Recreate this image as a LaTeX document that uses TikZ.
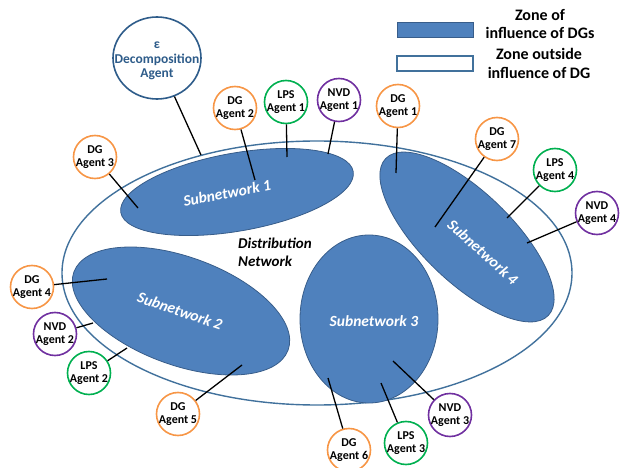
\documentclass[tikz,border=0pt]{standalone}
\usepackage{fontspec}
\setmainfont{Carlito}
\usetikzlibrary{shapes.geometric}

\definecolor{dgorange}{HTML}{F79646}
\definecolor{lpsgreen}{HTML}{00B050}
\definecolor{nvdpurple}{HTML}{7030A0}
\definecolor{subblue}{HTML}{4F81BD}
\definecolor{subborder}{HTML}{385D8A}
\definecolor{netborder}{HTML}{41719C}
\definecolor{decblue}{HTML}{2E5C8A}

\begin{document}
\begin{tikzpicture}[x = 1pt, y = -1pt,
                   every node/.style = {align          = center,
                                        inner sep      = 0pt},
                   agent/.style      = {shape          = circle,
                                        draw,
                                        line width     = 1.6pt,
                                        fill           = white,
                                        minimum size   = 43pt,
                                        inner sep      = -4pt,
                                        font           = \fontsize{12}{13.3}\selectfont\bfseries},
                   dg agent/.style   = {agent, draw = dgorange},
                   lps agent/.style  = {agent, draw = lpsgreen},
                   nvd agent/.style  = {agent, draw = nvdpurple},
                   subnet/.style     = {shape          = ellipse,
                                        fill           = subblue,
                                        draw           = subborder,
                                        line width     = 0.8pt},
                   sub label/.style  = {text           = white,
                                        font           = \fontsize{15.5}{18}\selectfont\bfseries\itshape},
                   key text/.style   = {font           = \fontsize{16}{18.5}\selectfont\bfseries},
                   black edge/.style = { -,
                                        line width     = 1.3pt,
                                        black}]
\useasboundingbox (0,0) rectangle (622,468);

% the network and its subnetworks
\node[ellipse, draw = netborder, line width = 1.4pt,
      minimum width = 510pt, minimum height = 264pt] (net) at (317,273) {};
\node[subnet, minimum width = 236pt, minimum height = 78pt,  rotate = 10]  (sub;1) at (237,192) {};
\node[subnet, minimum width = 228pt, minimum height = 108pt, rotate = -20] (sub;2) at (181,311) {};
\node[subnet, minimum width = 138pt, minimum height = 168pt]               (sub;3) at (369,319) {};
\node[subnet, minimum width = 226pt, minimum height = 90pt,  rotate = -44] (sub;4) at (467,237) {};

\node[sub label, rotate = 11]  (lbl;1) at (227,193) {Subnetwork 1};
\node[sub label, rotate = -19] (lbl;2) at (180,311) {Subnetwork 2};
\node[sub label]               (lbl;3) at (374,321) {Subnetwork 3};
\node[sub label, rotate = -42] (lbl;4) at (483,252) {Subnetwork 4};
\node[anchor = west, align = left, font = \fontsize{15}{18}\selectfont\bfseries\itshape]
     (net label) at (238,252) {Distribution\\Network};

% legend
\node[fill = subblue, draw = subborder, line width = 0.8pt,
      minimum width = 76pt, minimum height = 15pt] (key;1) at (435,29.5) {};
\node[fill = white, draw = netborder, line width = 1.6pt,
      minimum width = 76pt, minimum height = 15pt] (key;2) at (435,63.5) {};
\node[key text] (key;1-text) at (540,24)   {Zone of\\influence of DGs};
\node[key text] (key;2-text) at (539,63.5) {Zone outside\\influence of DG};

% ends of the connectors
\coordinate (dec-end)   at (201,155);
\coordinate (dg;1-end)  at (396,173);
\coordinate (dg;2-end)  at (255,180);
\coordinate (dg;3-end)  at (138,208);
\coordinate (dg;4-end)  at (107,279);
\coordinate (dg;5-end)  at (242,365);
\coordinate (dg;6-end)  at (328,378);
\coordinate (dg;7-end)  at (435,227);
\coordinate (lps;1-end) at (287,157);
\coordinate (lps;2-end) at (127,348);
\coordinate (lps;3-end) at (381,383);
\coordinate (lps;4-end) at (507,218);
\coordinate (nvd;1-end) at (328,154);
\coordinate (nvd;2-end) at (93,323);
\coordinate (nvd;3-end) at (393,361);
\coordinate (nvd;4-end) at (527,243);

% the agents
\node[ellipse, draw = decblue, line width = 1.6pt, fill = white,
      minimum width = 88pt, minimum height = 82pt,
      label = {[text = decblue, align = center, yshift = -3pt,
                font = \fontsize{13.5}{14.3}\selectfont\bfseries]center:ε\\Decomposition\\Agent}]
     (dec) at (157,58) {};
\node[dg agent] (dg;1) at (398,106) {DG\\Agent 1};
\node[dg agent] (dg;2) at (235,108) {DG\\Agent 2};
\node[dg agent] (dg;3) at (95,157)  {DG\\Agent 3};
\node[dg agent] (dg;4) at (32,287)  {DG\\Agent 4};
\node[dg agent] (dg;5) at (178,414) {DG\\Agent 5};
\node[dg agent] (dg;6) at (349,450) {DG\\Agent 6};
\node[dg agent] (dg;7) at (497,139) {DG\\Agent 7};
  \node[lps agent] (lps;1) at (286,102) {LPS\\Agent 1};
  \node[lps agent] (lps;2) at (89,373)  {LPS\\Agent 2};
  \node[lps agent] (lps;3) at (406,443) {LPS\\Agent 3};
  \node[lps agent] (lps;4) at (555,170) {LPS\\Agent 4};
     \node[nvd agent] (nvd;1) at (339,100) {NVD\\Agent 1};
     \node[nvd agent] (nvd;2) at (55,334)  {NVD\\Agent 2};
     \node[nvd agent] (nvd;3) at (450,415) {NVD\\Agent 3};
     \node[nvd agent] (nvd;4) at (597,213) {NVD\\Agent 4};

% edges
\draw[black edge] (dec) -- (dec-end);
\foreach \k in {1,...,7}
  { \draw[black edge] (dg;\k) -- (dg;\k-end); }
\foreach \k in {1,...,4}
  { \draw[black edge] (lps;\k) -- (lps;\k-end);
    \draw[black edge] (nvd;\k) -- (nvd;\k-end); }
\end{tikzpicture}
\end{document}
